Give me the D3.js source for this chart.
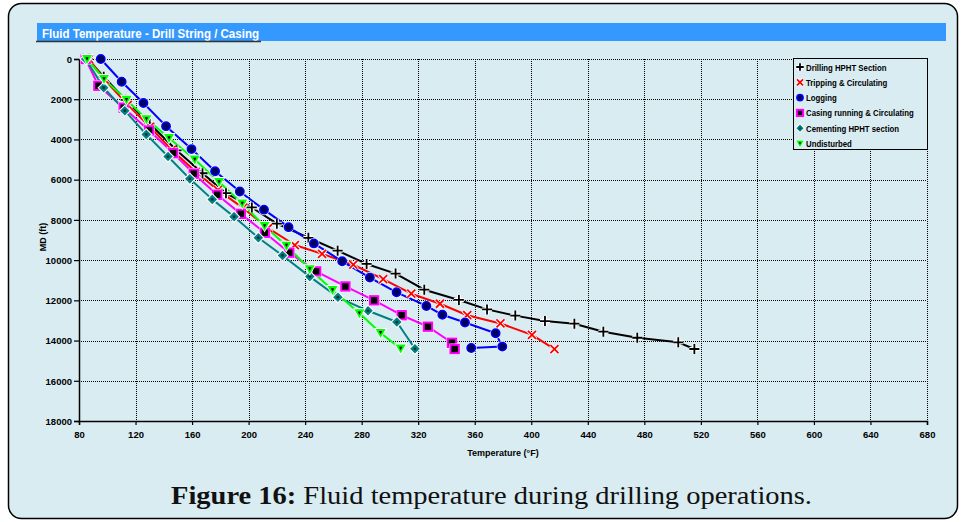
<!DOCTYPE html>
<html>
<head>
<meta charset="utf-8">
<script src="https://cdn.jsdelivr.net/npm/d3@7"></script>
<style>
    html, body { margin: 0; padding: 0; background: #fff; }
    svg { display: block; }
    text { font-family: "Liberation Sans", Arial, sans-serif; }
</style>
</head>
<body>
<svg id="chart" width="964" height="522"></svg>
<script>
// series names, in legend order
let seriesNames = ["Drilling HPHT Section", "Tripping & Circulating", "Logging",
    "Casing running & Circulating", "Cementing HPHT section", "Undisturbed"];

// [temperature °F, MD ft]
let drilling = [[86, 0], [97.5, 880], [113, 2030], [130, 3220], [149, 4540], [167.4, 5680], [184, 6670],
    [202.3, 7380], [220, 8190], [242.3, 8890], [263, 9530], [283.5, 10190], [304, 10670], [324.3, 11470],
    [348.8, 11980], [368.7, 12450], [388.7, 12760], [409.7, 13030], [430.5, 13160], [451, 13560],
    [475, 13860], [504, 14090], [515.4, 14420]];
let tripping = [[87, 0], [98.2, 1030], [114.5, 2280], [130.1, 3370], [145.6, 4520], [162.6, 5610],
    [178.2, 6510], [195.9, 7400], [213.8, 8410], [232.7, 9250], [252, 9690], [274.1, 10230], [295.2, 10950],
    [315.1, 11670], [335.4, 12170], [354.7, 12740], [378.2, 13150], [400.5, 13720], [416.4, 14430]];
let logging = [[95.4, 0], [110.2, 1130], [125.6, 2190], [141.6, 3340], [159.6, 4480], [176.3, 5580],
    [193.8, 6590], [210.9, 7490], [228.3, 8360], [246.2, 9170], [266.2, 10060], [285.8, 10870],
    [304.7, 11600], [325.8, 12280], [337.1, 12720], [353.1, 13100], [374.8, 13640], [379.5, 14300],
    [357.5, 14370]];
let casing = [[84.7, 0], [93.7, 1330], [111.6, 2420], [129.6, 3550], [146.6, 4680], [161.2, 5700],
    [177.8, 6750], [194.5, 7700], [211.5, 8640], [228.8, 9630], [247.8, 10560], [268.5, 11310],
    [288.8, 12000], [308.3, 12740], [326.9, 13310], [343.9, 14110], [345.8, 14420]];
let cementing = [[84.7, 0], [97.5, 1430], [112.4, 2570], [127.6, 3750], [143, 4850], [158.4, 5960],
    [174.3, 6980], [189.7, 7840], [206.9, 8890], [224, 9770], [243.3, 10820], [263.2, 11850],
    [284.5, 12520], [304.9, 13080], [317.7, 14410]];
let undisturbed = [[85.7, 0], [97.7, 1000], [113.6, 2030], [127.7, 2990], [143.7, 3930], [161.9, 5000],
    [179.1, 6120], [195.5, 7190], [211.3, 8310], [226.8, 9280], [243.3, 10450], [259.4, 11490],
    [278.4, 12640], [293.4, 13620], [307.6, 14400]];

let xTicks = [80, 120, 160, 200, 240, 280, 320, 360, 400, 440, 480, 520, 560, 600, 640, 680];
let yTicks = [0, 2000, 4000, 6000, 8000, 10000, 12000, 14000, 16000, 18000];

let chartTitle = "Fluid Temperature -  Drill String / Casing";
let xTitle = "Temperature (°F)";
let yTitle = "MD (ft)";

let series = [
    {name: seriesNames[0], values: drilling, color: "#000000", mark: "plus"},
    {name: seriesNames[1], values: tripping, color: "#ff0000", mark: "times"},
    {name: seriesNames[2], values: logging, color: "#0000ff", mark: "circle"},
    {name: seriesNames[3], values: casing, color: "#ff00ff", mark: "square"},
    {name: seriesNames[4], values: cementing, color: "#008080", mark: "diamond"},
    {name: seriesNames[5], values: undisturbed, color: "#00ff00", mark: "triangle"}
];

let bg = "#d9ecf1";
let SVG = d3.select("#chart");

// outer panel
SVG.append("rect")
    .attr("x", 8.5).attr("y", 3.5)
    .attr("width", 949).attr("height", 515)
    .attr("rx", 13).attr("ry", 13)
    .style("fill", bg)
    .style("stroke", "#000")
    .style("stroke-width", 1.5);

// title bar
SVG.append("rect")
    .attr("x", 37).attr("y", 23)
    .attr("width", 909).attr("height", 18)
    .style("fill", "#3399ff");
let titleText = SVG.append("text")
    .attr("x", 42).attr("y", 38)
    .style("font-size", "12.5px")
    .style("font-weight", "bold")
    .style("fill", "#fff")
    .text(chartTitle);
squeeze(titleText, 217);
SVG.append("line")
    .attr("x1", 36).attr("x2", 261)
    .attr("y1", 41.5).attr("y2", 41.5)
    .style("stroke", "#333")
    .style("stroke-width", 1.5);

let margin = {top: 59, right: 37, bottom: 101, left: 79};
let width = 964 - margin.left - margin.right;
let height = 522 - margin.top - margin.bottom;

let x = d3.scaleLinear().domain([80, 680]).range([0, width]);
let y = d3.scaleLinear().domain([0, 18000]).range([0, height]);

let plot = SVG.append("g")
    .attr("transform", "translate(" + margin.left + "," + margin.top + ")");

// dotted grid
plot.append("g").selectAll("line")
    .data(xTicks.slice(1))
    .enter().append("line")
    .attr("x1", d => Math.round(x(d)) + 0.5).attr("x2", d => Math.round(x(d)) + 0.5)
    .attr("y1", 0).attr("y2", height)
    .style("stroke", "#000")
    .style("stroke-width", 1)
    .style("stroke-dasharray", "1,1");
plot.append("g").selectAll("line")
    .data(yTicks.slice(0, -1))
    .enter().append("line")
    .attr("x1", 0).attr("x2", width)
    .attr("y1", d => Math.round(y(d)) + 0.5).attr("y2", d => Math.round(y(d)) + 0.5)
    .style("stroke", "#000")
    .style("stroke-width", 1)
    .style("stroke-dasharray", "1,1");

// axes
let xAxis = d3.axisBottom(x).tickValues(xTicks).tickSize(4).tickPadding(6).tickFormat(d3.format("d"));
let yAxis = d3.axisLeft(y).tickValues(yTicks).tickSize(5).tickPadding(2).tickFormat(d3.format("d"));

let gx = plot.append("g")
    .attr("transform", "translate(0," + height + ")")
    .call(xAxis);
let gy = plot.append("g").call(yAxis);
[gx, gy].forEach(g => {
    g.select(".domain").style("stroke", "#000").style("stroke-width", 1.5);
    g.selectAll(".tick line").style("stroke", "#000").style("stroke-width", 1.2);
    g.selectAll("text")
        .style("font-family", "'Liberation Sans', Arial, sans-serif")
        .style("font-size", "9.5px")
        .style("font-weight", "bold")
        .style("fill", "#000");
});
gy.selectAll("text").attr("dy", "0.35em");

SVG.append("text")
    .attr("x", 503).attr("y", 456)
    .style("text-anchor", "middle")
    .style("font-size", "9px")
    .style("font-weight", "bold")
    .text(xTitle);
SVG.append("text")
    .attr("transform", "translate(46,237) rotate(-90)")
    .style("text-anchor", "middle")
    .style("font-size", "9px")
    .style("font-weight", "bold")
    .text(yTitle);

// markers
function drawMark(g, mark, color, k) {
    k = k || 1;
    if (mark === "plus") {
        let p = "M" + (-5 * k) + ",0H" + (5 * k) + "M0," + (-5 * k) + "V" + (5 * k);
        g.append("path").attr("d", p).style("stroke", "#fff").style("stroke-width", 4);
        g.append("path").attr("d", p).style("stroke", color).style("stroke-width", 1.8);
    } else if (mark === "times") {
        let p = "M" + (-4 * k) + "," + (-4 * k) + "L" + (4 * k) + "," + (4 * k) +
            "M" + (-4 * k) + "," + (4 * k) + "L" + (4 * k) + "," + (-4 * k);
        g.append("path").attr("d", p).style("stroke", "#fff").style("stroke-width", 3.5);
        g.append("path").attr("d", p).style("stroke", color).style("stroke-width", 1.8);
    } else if (mark === "circle") {
        g.append("circle").attr("r", 5.5 * k).style("fill", "#fff");
        g.append("circle").attr("r", 4.2 * k).style("fill", "#000060")
            .style("stroke", color).style("stroke-width", 1.5);
    } else if (mark === "square") {
        g.append("rect").attr("x", -5.5 * k).attr("y", -5.5 * k).attr("width", 11 * k).attr("height", 11 * k)
            .style("fill", "#fff");
        g.append("rect").attr("x", -4.2 * k).attr("y", -4.2 * k).attr("width", 8.4 * k).attr("height", 8.4 * k)
            .style("fill", "#000").style("stroke", color).style("stroke-width", 2);
    } else if (mark === "diamond") {
        let s = 4.8 * k;
        g.append("path").attr("d", "M0," + (-s - 1.5) + "L" + (s + 1.5) + ",0L0," + (s + 1.5) + "L" + (-s - 1.5) + ",0Z")
            .style("fill", "#fff");
        g.append("path").attr("d", "M0," + (-s) + "L" + s + ",0L0," + s + "L" + (-s) + ",0Z")
            .style("fill", color);
        g.append("circle").attr("r", 1.4 * k).style("fill", "#003333");
    } else if (mark === "triangle") {
        g.append("path").attr("d", "M" + (-6.5 * k) + "," + (-5 * k) + "L" + (6.5 * k) + "," + (-5 * k) + "L0," + (6.5 * k) + "Z")
            .style("fill", "#fff");
        g.append("path").attr("d", "M" + (-5 * k) + "," + (-4 * k) + "L" + (5 * k) + "," + (-4 * k) + "L0," + (5 * k) + "Z")
            .style("fill", color);
        g.append("path").attr("d", "M" + (-1.6 * k) + "," + (-1.8 * k) + "L" + (1.6 * k) + "," + (-1.8 * k) + "L0," + (1.6 * k) + "Z")
            .style("fill", "#000");
    }
}

let line = d3.line()
    .x(d => x(d[0]))
    .y(d => y(d[1]));

series.forEach(s => {
    plot.append("path")
        .datum(s.values)
        .attr("d", line)
        .style("fill", "none")
        .style("stroke", s.color)
        .style("stroke-width", 2)
        .style("stroke-linejoin", "round");
});
series.forEach(s => {
    plot.append("g").selectAll("g")
        .data(s.values)
        .enter().append("g")
        .attr("transform", d => "translate(" + x(d[0]) + "," + y(d[1]) + ")")
        .each(function () { drawMark(d3.select(this), s.mark, s.color, 1); });
});

// legend
let legend = SVG.append("g").attr("transform", "translate(793,58)");
legend.append("rect")
    .attr("x", 0.5).attr("y", 0.5)
    .attr("width", 134).attr("height", 91)
    .style("fill", bg)
    .style("stroke", "#000")
    .style("stroke-width", 1);
series.forEach((s, i) => {
    let row = legend.append("g").attr("transform", "translate(0," + (9 + i * 15.3) + ")");
    drawMark(row.append("g").attr("transform", "translate(7,0)"), s.mark, s.color, 0.75);
    let t = row.append("text")
        .attr("x", 13).attr("y", 3.5)
        .style("font-size", "9.5px")
        .style("font-weight", "bold")
        .text(s.name);
    squeeze(t, t.node().getComputedTextLength() * 0.82);
});

// caption
let caption = SVG.append("text")
    .attr("x", 171).attr("y", 504)
    .style("font-family", "'Liberation Serif', 'DejaVu Serif', serif")
    .style("font-size", "25px")
    .style("fill", "#111");
caption.append("tspan").style("font-weight", "bold").text("Figure 16:");
caption.append("tspan").text(" Fluid temperature during drilling operations.");
squeeze(caption, 641);

function squeeze(sel, len) {
    sel.attr("textLength", len).attr("lengthAdjust", "spacingAndGlyphs");
}
</script>
</body>
</html>
